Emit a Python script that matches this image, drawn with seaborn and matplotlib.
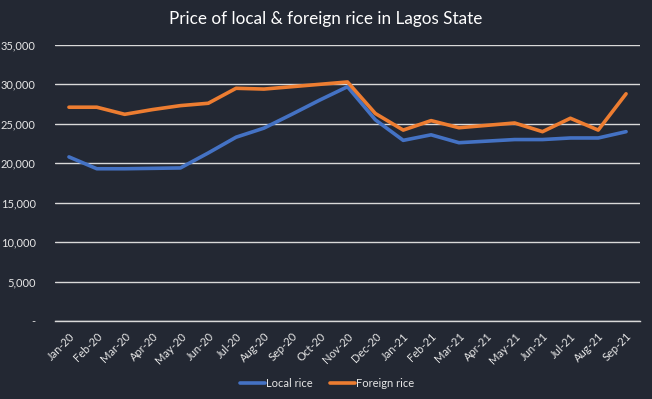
import matplotlib
matplotlib.use("Agg")
import matplotlib.pyplot as plt
import matplotlib.ticker as mticker
import numpy as np
import pandas as pd
import seaborn as sns

months = ["Jan-20", "Feb-20", "Mar-20", "Apr-20", "May-20", "Jun-20", "Jul-20",
          "Aug-20", "Sep-20", "Oct-20", "Nov-20", "Dec-20", "Jan-21", "Feb-21",
          "Mar-21", "Apr-21", "May-21", "Jun-21", "Jul-21", "Aug-21", "Sep-21"]
local_rice = [20800, 19300, 19300, 19350, 19400, 21300, 23300,
              24450, 26200, 28000, 29700, 25500, 22900, 23600,
              22600, 22800, 23000, 23000, 23200, 23200, 24000]
foreign_rice = [27100, 27100, 26200, 26800, 27300, 27600, 29500,
                29400, 29700, 30000, 30300, 26300, 24200, 25400,
                24500, 24800, 25100, 24000, 25700, 24200, 28800]

bg = "#232833"
fg = "#e6e6e6"
grid = "#d9d9d9"

df = pd.DataFrame({
    "idx": list(range(len(months))) * 2,
    "price": local_rice + foreign_rice,
    "series": ["Local rice"] * len(months) + ["Foreign rice"] * len(months),
})

sns.set_style("dark")
plt.rcParams["font.family"] = ["Lato", "DejaVu Sans"]

fig = plt.figure(figsize=(6.52, 3.99), dpi=100, facecolor=bg)
ax = fig.add_axes([0.0844, 0.1955, 0.8972, 0.692])
ax.set_facecolor(bg)

sns.lineplot(data=df, x="idx", y="price", hue="series",
             palette={"Local rice": "#4472c4", "Foreign rice": "#ed7d31"},
             linewidth=2.6, ax=ax)

ax.set_xlim(-0.5, len(months) - 0.5)
ax.set_ylim(0, 35000)
ax.yaxis.set_major_locator(mticker.MultipleLocator(5000))
ax.yaxis.set_major_formatter(mticker.FuncFormatter(
    lambda v, p: "-" if v == 0 else f"{int(v):,}"))
ax.grid(axis="y", color=grid, linewidth=1)
ax.grid(axis="x", visible=False)
ax.set_axisbelow(True)

ax.set_xticks(range(len(months)))
ax.set_xticklabels(months, rotation=45, ha="right", rotation_mode="anchor")
ax.set_xticks(np.arange(-0.5, len(months)), minor=True)
ax.tick_params(axis="x", which="major", length=0, colors=fg, labelsize=8, pad=7)
ax.tick_params(axis="x", which="minor", length=4, color=grid, width=1)
ax.tick_params(axis="y", length=0, colors=fg, labelsize=8, pad=14)

for s in ["top", "right", "left"]:
    ax.spines[s].set_visible(False)
ax.spines["bottom"].set_color(grid)
ax.spines["bottom"].set_linewidth(1)

ax.set_xlabel("")
ax.set_ylabel("")

fig.suptitle("Price of local & foreign rice in Lagos State", color="white",
             fontsize=12.3, x=0.5, y=0.972, va="top")

ax.legend(loc="center", bbox_to_anchor=(0.465, -0.225), ncol=2, frameon=False,
          fontsize=8, labelcolor=fg, handlelength=2.2, handletextpad=0.1,
          columnspacing=1.6)

fig.savefig("out.png", dpi=100, facecolor=bg)
